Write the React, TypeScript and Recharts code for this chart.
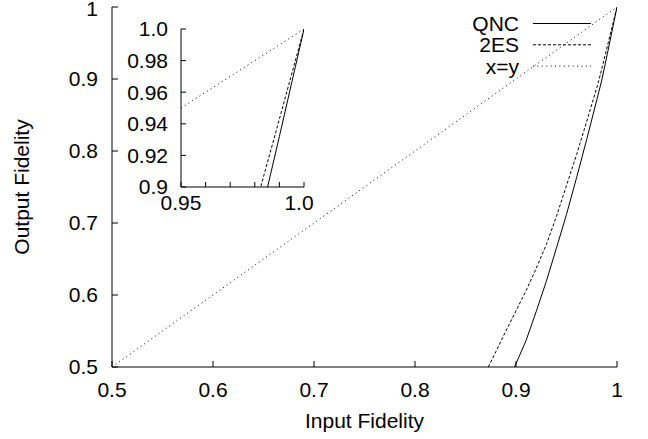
import React from 'react';
import { LineChart, Line, XAxis, YAxis } from 'recharts';

const FONT = '"Liberation Sans", Arial, Helvetica, sans-serif';
const FS = 21;

// QNC series (input fidelity -> output fidelity)
const qncX = [0.8986, 0.91, 0.92, 0.93, 0.94, 0.95, 0.96, 0.97, 0.98, 0.9852, 0.99, 1.0];
const qncY = [0.5, 0.537, 0.577, 0.619, 0.665, 0.712, 0.763, 0.816, 0.871, 0.9, 0.932, 1.0];

// 2ES series
const esX = [0.8726, 0.88, 0.89, 0.9, 0.91, 0.92, 0.93, 0.94, 0.95, 0.96, 0.97, 0.98, 0.9824, 0.99, 1.0];
const esY = [0.5, 0.521, 0.55, 0.578, 0.606, 0.637, 0.67, 0.709, 0.752, 0.795, 0.841, 0.888, 0.9, 0.943, 1.0];

// x=y reference
const diagX = [0.5, 1.0];
const diagY = [0.5, 1.0];

const mainXTicks = [0.5, 0.6, 0.7, 0.8, 0.9, 1.0];
const mainYTicks = [0.5, 0.6, 0.7, 0.8, 0.9, 1.0];
const insetXTicks = [0.95, 0.96, 0.97, 0.98, 0.99, 1.0];
const insetYTicks = [0.9, 0.92, 0.94, 0.96, 0.98, 1.0];
const insetXLabeled = [0.95, 1.0];

const seriesNames = ['QNC', '2ES', 'x=y'];
const seriesDash = ['', '3 2', '1 3.4'];

const toPts = (xs: number[], ys: number[]) => xs.map((x, i) => ({ x, y: ys[i] }));
const qncData = toPts(qncX, qncY);
const esData = toPts(esX, esY);
const diagData = toPts(diagX, diagY);
const seriesData = [qncData, esData, diagData];

const tickStyle = { fill: '#000', fontSize: FS, fontFamily: FONT };

const near = (a: number, b: number) => Math.abs(a - b) < 1e-9;
const mainFmt = (v: number) => (near(v, 1) ? '1' : v.toFixed(1));
const insetYFmt = (v: number) => (near(v, 1) ? '1.0' : near(v, 0.9) ? '0.9' : v.toFixed(2));
const insetXFmt = (v: number) =>
  insetXLabeled.some((t) => near(t, v)) ? (near(v, 1) ? '1.0' : v.toFixed(2)) : '';

const MainYTick = (props: any) => {
  const { x, y, payload } = props;
  const shift = near(payload.value, 1) ? 2 : 0;
  return (
    <text x={x} y={y + shift} dy="0.355em" textAnchor="end" fill="#000" fontSize={FS} fontFamily={FONT}>
      {mainFmt(payload.value)}
    </text>
  );
};

const InsetXTick = (props: any) => {
  const { x, y, payload } = props;
  const label = insetXFmt(payload.value);
  if (!label) return null;
  const shift = near(payload.value, 1) ? -5 : 0;
  return (
    <text x={x + shift} y={y} dy="0.71em" textAnchor="middle" fill="#000" fontSize={FS} fontFamily={FONT}>
      {label}
    </text>
  );
};

function renderLines() {
  return seriesNames.map((name, i) => (
    <Line
      key={name}
      name={name}
      data={seriesData[i]}
      dataKey="y"
      type="linear"
      stroke="#000"
      strokeWidth={1}
      strokeDasharray={seriesDash[i] || undefined}
      dot={false}
      activeDot={false}
      isAnimationActive={false}
    />
  ));
}

export default function App() {
  return (
    <div style={{ position: 'absolute', left: 0, top: 0, width: 648, height: 439, background: '#fff', fontFamily: FONT }}>
      <div style={{ position: 'absolute', left: 0, top: 0 }}>
        <LineChart width={648} height={439} margin={{ top: 7, right: 31, left: 0, bottom: 0 }}>
          <XAxis
            type="number"
            dataKey="x"
            domain={[0.5, 1]}
            ticks={mainXTicks}
            interval={0}
            allowDataOverflow
            height={72}
            stroke="#000"
            tickSize={-6}
            tickMargin={21}
            tick={tickStyle}
            tickFormatter={mainFmt}
            label={{
              content: (p: any) => {
                const vb = p.viewBox || { x: 112, y: 367, width: 505 };
                return (
                  <text x={vb.x + vb.width / 2} y={vb.y + 61} textAnchor="middle" fill="#000" fontSize={FS} fontFamily={FONT}>
                    Input Fidelity
                  </text>
                );
              },
            }}
          />
          <XAxis
            xAxisId="top"
            orientation="top"
            type="number"
            dataKey="x"
            domain={[0.5, 1]}
            ticks={mainXTicks}
            interval={0}
            allowDataOverflow
            height={0}
            stroke="#000"
            tickSize={-6}
            tick={false}
          />
          <YAxis
            type="number"
            domain={[0.5, 1]}
            ticks={mainYTicks}
            interval={0}
            allowDataOverflow
            width={112}
            stroke="#000"
            tickSize={-6}
            tickMargin={20}
            tick={<MainYTick />}
            label={{
              content: (p: any) => {
                const vb = p.viewBox || { x: 0, y: 7, height: 360 };
                const cx = 29;
                const cy = vb.y + vb.height / 2;
                return (
                  <text x={cx} y={cy} transform={`rotate(-90 ${cx} ${cy})`} textAnchor="middle" fill="#000" fontSize={FS} fontFamily={FONT}>
                    Output Fidelity
                  </text>
                );
              },
            }}
          />
          <YAxis
            yAxisId="right"
            orientation="right"
            type="number"
            domain={[0.5, 1]}
            ticks={mainYTicks}
            interval={0}
            allowDataOverflow
            width={0}
            stroke="#000"
            tickSize={-6}
            tick={false}
          />
          {renderLines()}
        </LineChart>
      </div>

      <div style={{ position: 'absolute', left: 100, top: 5 }}>
        <LineChart width={230} height={215} margin={{ top: 24, right: 26, left: 0, bottom: 0 }}>
          <XAxis
            type="number"
            dataKey="x"
            domain={[0.95, 1]}
            ticks={insetXTicks}
            interval={0}
            allowDataOverflow
            height={33}
            stroke="#000"
            tickSize={-5}
            tickMargin={13}
            tick={<InsetXTick />}
          />
          <XAxis
            xAxisId="top"
            orientation="top"
            type="number"
            dataKey="x"
            domain={[0.95, 1]}
            ticks={insetXTicks}
            interval={0}
            allowDataOverflow
            height={0}
            stroke="#000"
            tickSize={-5}
            tick={false}
          />
          <YAxis
            type="number"
            domain={[0.9, 1]}
            ticks={insetYTicks}
            interval={0}
            allowDataOverflow
            width={81}
            stroke="#000"
            tickSize={-5}
            tickMargin={18}
            tick={tickStyle}
            tickFormatter={insetYFmt}
          />
          <YAxis
            yAxisId="right"
            orientation="right"
            type="number"
            domain={[0.9, 1]}
            ticks={insetYTicks}
            interval={0}
            allowDataOverflow
            width={0}
            stroke="#000"
            tickSize={-5}
            tick={false}
          />
          {renderLines()}
        </LineChart>
      </div>

      <svg width={648} height={439} style={{ position: 'absolute', left: 0, top: 0, pointerEvents: 'none' }}>
        {seriesNames.map((name, i) => {
          const cy = 23.5 + i * 21.3;
          return (
            <g key={name}>
              <text x={519} y={cy} dy="0.355em" textAnchor="end" fill="#000" fontSize={FS} fontFamily={FONT}>
                {name}
              </text>
              <line x1={533} x2={591} y1={cy} y2={cy} stroke="#000" strokeWidth={1} strokeDasharray={seriesDash[i] || undefined} />
            </g>
          );
        })}
      </svg>
    </div>
  );
}
